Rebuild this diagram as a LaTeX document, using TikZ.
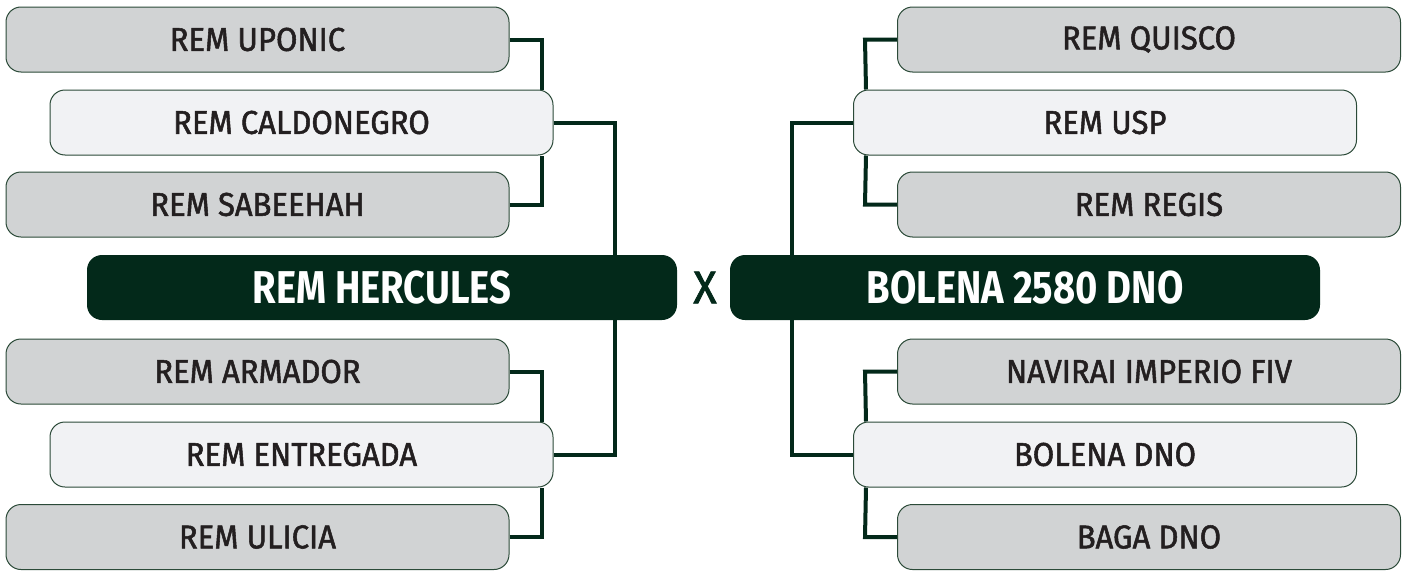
\documentclass[tikz,border=0pt]{standalone}
\usepackage{fontspec}
\newfontfamily\labfont{Fira Sans}[FakeStretch=0.94, FakeBold=1.6]
\newfontfamily\headfont{Fira Sans Bold}[FakeStretch=0.83]
\usetikzlibrary{backgrounds}
\definecolor{boxgrey}{HTML}{D1D3D4}
\definecolor{boxlight}{HTML}{F1F2F4}
\definecolor{darkgreen}{HTML}{03291A}
\definecolor{boxline}{HTML}{2B4A38}
\definecolor{txt}{HTML}{231F20}
\tikzset{
  base/.style={rounded corners=15pt, draw=boxline, line width=1pt, minimum width=503pt, minimum height=65pt, inner sep=0pt, text=txt, font=\labfont\fontsize{33}{36}\selectfont},
  greybox/.style={base, fill=boxgrey},
  lightbox/.style={base, fill=boxlight},
  headbox/.style={rounded corners=15pt, fill=darkgreen, minimum width=590pt, minimum height=65pt, inner sep=0pt, text=white, font=\headfont\fontsize{46}{50}\selectfont},
  link/.style={draw=darkgreen, line width=4pt},
}
\begin{document}
\begin{tikzpicture}[x=1pt,y=-1pt]
\useasboundingbox (0,0) rectangle (1410,570);
% left
\node[greybox]  (upo) at (257.5,39.5)  {REM UPONIC};
\node[lightbox] (cal) at (301.5,122.5) {REM CALDONEGRO};
\node[greybox]  (sab) at (257.5,204.5) {REM SABEEHAH};
\node[headbox]  (her) at (382,287.5)   {REM HERCULES};
\node[greybox]  (arm) at (257.5,371.5) {REM ARMADOR};
\node[lightbox] (ent) at (301.5,454.5) {REM ENTREGADA};
\node[greybox]  (uli) at (257.5,537)   {REM ULICIA};
% right
\node[greybox]  (qui) at (1149,39.5)   {REM QUISCO};
\node[lightbox] (usp) at (1105,122.5)  {REM USP};
\node[greybox]  (reg) at (1149,204.5)  {REM REGIS};
\node[headbox]  (bol) at (1025,287.5)  {BOLENA 2580 DNO};
\node[greybox]  (nav) at (1149,371.5)  {NAVIRAI IMPERIO FIV};
\node[lightbox] (bdn) at (1105,454.5)  {BOLENA DNO};
\node[greybox]  (bag) at (1149,537)    {BAGA DNO};
\node[text=darkgreen, font=\labfont\fontsize{46}{50}\selectfont] (vs) at (705,287.5) {X};
\begin{scope}[on background layer]
\draw[link] (upo.east) -- ++(32,0) -- ([xshift=-12pt]cal.north east);
\draw[link] (sab.east) -- ++(32,0) -- ([xshift=-12pt]cal.south east);
\draw[link] (cal.east) -- ++(61,0) |- (ent.east);
\draw[link] (arm.east) -- ++(32,0) -- ([xshift=-12pt]ent.north east);
\draw[link] (uli.east) -- ++(32,0) -- ([xshift=-12pt]ent.south east);
\draw[link] (qui.west) -- ++(-32,0) -- ([xshift=13pt]usp.north west);
\draw[link] (reg.west) -- ++(-32,0) -- ([xshift=13pt]usp.south west);
\draw[link] (usp.west) -- ++(-61,0) |- (bdn.west);
\draw[link] (nav.west) -- ++(-32,0) -- ([xshift=13pt]bdn.north west);
\draw[link] (bag.west) -- ++(-32,0) -- ([xshift=13pt]bdn.south west);
\end{scope}
\end{tikzpicture}
\end{document}
